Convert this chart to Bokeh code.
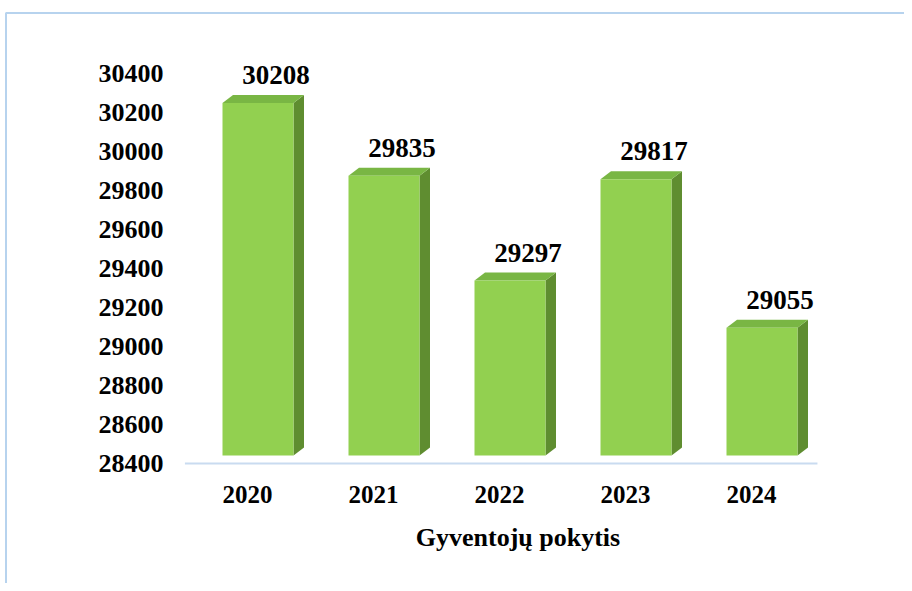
from bokeh.plotting import figure
from bokeh.models import Range1d
from bokeh.core.properties import value
from bokeh.embed import file_html
from bokeh.resources import INLINE

years = ["2020", "2021", "2022", "2023", "2024"]
population = [30208, 29835, 29297, 29817, 29055]
y_ticks = [28400, 28600, 28800, 29000, 29200, 29400, 29600, 29800, 30000, 30200, 30400]
x_title = "Gyventojų pokytis"

W, H = 904, 583
# pixel geometry (frame == whole canvas)
px_per_unit_y = 390 / 2000.0          # 0.195 px per person
y_base_px = 463                        # frame px of 28400
y_top = y_ticks[0] + y_base_px / px_per_unit_y
y_bot = y_ticks[0] - (H - y_base_px) / px_per_unit_y
px_per_cat = 126.0
first_px = 257.5
x_start = -first_px / px_per_cat
x_end = (W - first_px) / px_per_cat

p = figure(width=W, height=H, output_backend="svg", toolbar_location=None,
           x_range=Range1d(x_start, x_end), y_range=Range1d(y_bot, y_top),
           min_border=0, outline_line_color=None)
p.axis.visible = False
p.grid.visible = False
p.background_fill_color = "white"
p.border_fill_color = "white"

# border of the chart area (top and left edges)
bx = x_start + 5.5 / px_per_cat
by = y_top - 12.5 / px_per_unit_y
p.line([bx, bx, x_end], [y_bot, by, by], line_color="#b7d3ee", line_width=2)

bw = 71 / px_per_cat
dx = 10.5 / px_per_cat
dy = 8 / px_per_unit_y
xs = list(range(len(years)))

# axis (floor) line
p.line([xs[0] - 0.58, xs[-1] + 0.44], [y_ticks[0], y_ticks[0]],
       line_color="#c9dbf0", line_width=2)

base = y_ticks[0] + dy
for i, v in zip(xs, population):
    top = v + dy
    l, r = i - bw / 2, i + bw / 2
    # side face
    p.patch([r, r + dx, r + dx, r], [base, base + dy, top + dy, top],
            fill_color="#5f8d30", line_color=None)
    # top face
    p.patch([l, l + dx, r + dx, r], [top, top + dy, top + dy, top],
            fill_color="#79b644", line_color=None)
    # front face
    p.quad(left=l, right=r, bottom=base, top=top,
           fill_color="#92d050", line_color=None)

# value labels
p.text(x=[i + 18 / px_per_cat for i in xs], y=[v + 2 * dy + 11 / px_per_unit_y for v in population],
       text=[str(v) for v in population], text_align="center", text_baseline="bottom",
       text_font=value("Liberation Serif"), text_font_style="bold",
       text_font_size="27px", text_color="black")

# y tick labels
p.text(x=[x_start + 163 / px_per_cat] * len(y_ticks), y=y_ticks,
       text=[str(t) for t in y_ticks], text_align="right", text_baseline="middle",
       text_font=value("Liberation Serif"), text_font_style="bold",
       text_font_size="26px", text_color="black")

# x category labels
p.text(x=[i - 10.5 / px_per_cat for i in xs], y=[y_ticks[0] - 31 / px_per_unit_y] * len(xs),
       text=years, text_align="center", text_baseline="middle",
       text_font=value("Liberation Serif"), text_font_style="bold",
       text_font_size="25px", text_color="black")

# axis title
p.text(x=[2 + 8 / px_per_cat], y=[y_ticks[0] - 74 / px_per_unit_y], text=[x_title],
       text_align="center", text_baseline="middle",
       text_font=value("Liberation Serif"), text_font_style="bold",
       text_font_size="26px", text_color="black")

open("out.html", "w").write(file_html(p, INLINE))
